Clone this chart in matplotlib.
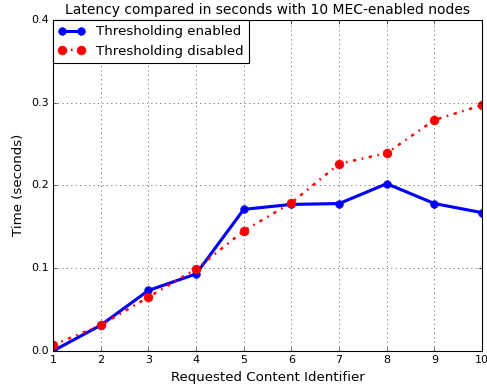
import matplotlib
matplotlib.use("Agg")
import matplotlib.pyplot as plt

plt.style.use('classic')

content_ids = [1, 2, 3, 4, 5, 6, 7, 8, 9, 10]
enabled = [0.000, 0.031, 0.073, 0.093, 0.171, 0.177, 0.178, 0.202, 0.178, 0.167]
disabled = [0.007, 0.031, 0.065, 0.099, 0.145, 0.179, 0.226, 0.239, 0.279, 0.297]

fig = plt.figure(figsize=(487/80., 389/80.), dpi=80, facecolor='white')
ax = fig.add_axes([0.109, 0.098, 0.881, 0.851])

ax.plot(content_ids, enabled, 'b-o', lw=2.8, ms=7, mec='b', label="Thresholding enabled")
ax.plot(content_ids, disabled, 'r-.o', lw=2.2, ms=8, mec='r', dashes=(3, 5, 1.5, 5),
        label="Thresholding disabled")

ax.set_xlim(1, 10)
ax.set_ylim(0, 0.4)
ax.set_xticks(content_ids)
ax.set_yticks([0.0, 0.1, 0.2, 0.3, 0.4])
ax.grid(True)
ax.set_title("Latency compared in seconds with 10 MEC-enabled nodes", fontsize=12.5)
ax.set_xlabel("Requested Content Identifier", fontsize=12)
ax.set_ylabel("Time (seconds)", fontsize=12)
ax.tick_params(labelsize=10)
ax.legend(loc='upper left', fontsize=12, numpoints=2, borderaxespad=0.0)

fig.savefig("out.png", dpi=80, facecolor='white')
